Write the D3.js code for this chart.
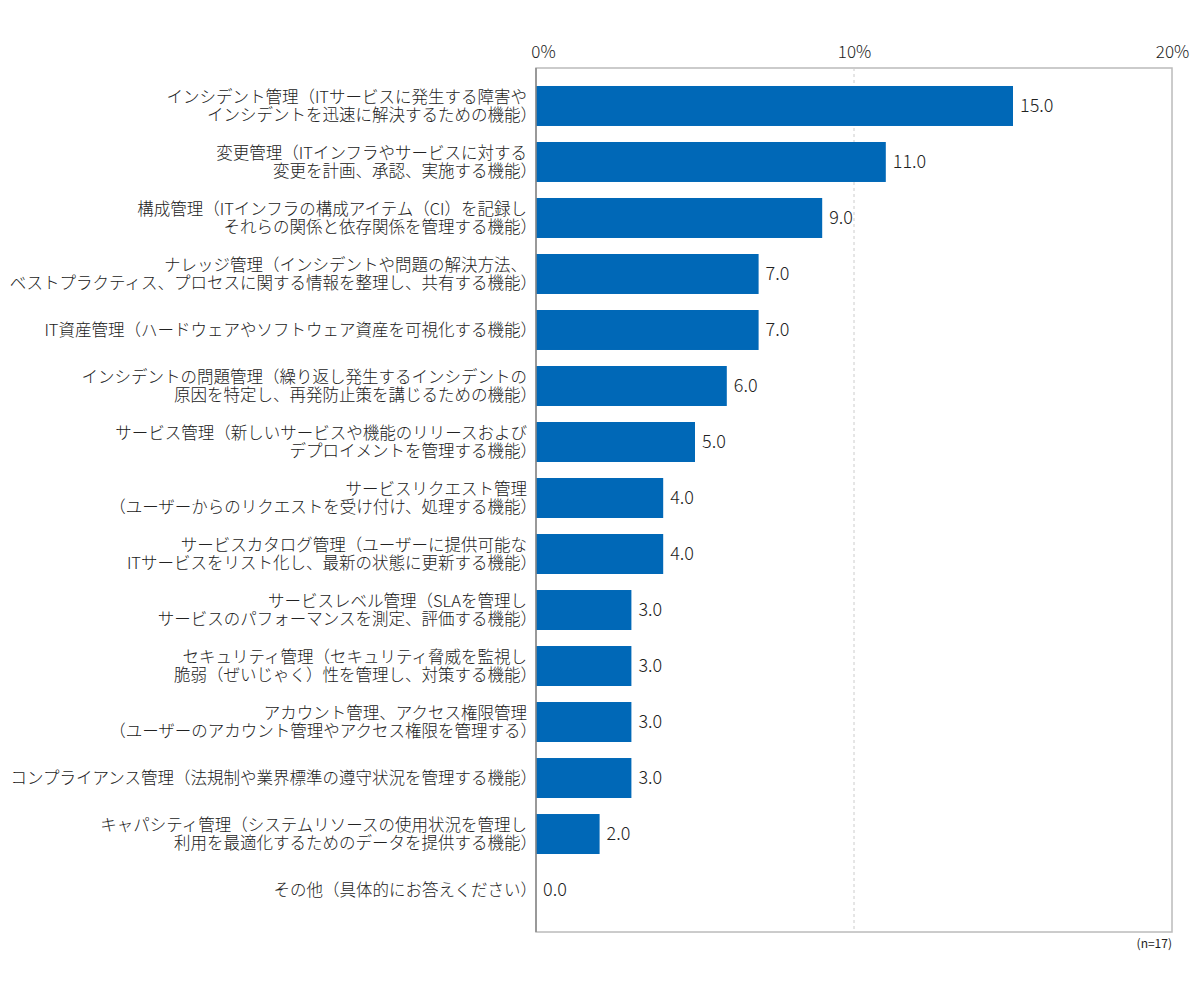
<!DOCTYPE html>
<html>
<head>
<meta charset="utf-8">
<script src="https://cdn.jsdelivr.net/npm/d3@7"></script>
<style>
  body { margin: 0; background: #fff; }
  text { font-family: "Noto Sans CJK JP", "Noto Sans", sans-serif; fill: #222; font-weight: 300; }
</style>
</head>
<body>
<div id="chart"></div>
<script>
// categories (line breaks as in the original), values in %
const categories = [
    "インシデント管理（ITサービスに発生する障害や\nインシデントを迅速に解決するための機能）",
    "変更管理（ITインフラやサービスに対する\n変更を計画、承認、実施する機能）",
    "構成管理（ITインフラの構成アイテム（CI）を記録し\nそれらの関係と依存関係を管理する機能）",
    "ナレッジ管理（インシデントや問題の解決方法、\nベストプラクティス、プロセスに関する情報を整理し、共有する機能）",
    "IT資産管理（ハードウェアやソフトウェア資産を可視化する機能）",
    "インシデントの問題管理（繰り返し発生するインシデントの\n原因を特定し、再発防止策を講じるための機能）",
    "サービス管理（新しいサービスや機能のリリースおよび\nデプロイメントを管理する機能）",
    "サービスリクエスト管理\n（ユーザーからのリクエストを受け付け、処理する機能）",
    "サービスカタログ管理（ユーザーに提供可能な\nITサービスをリスト化し、最新の状態に更新する機能）",
    "サービスレベル管理（SLAを管理し\nサービスのパフォーマンスを測定、評価する機能）",
    "セキュリティ管理（セキュリティ脅威を監視し\n脆弱（ぜいじゃく）性を管理し、対策する機能）",
    "アカウント管理、アクセス権限管理\n（ユーザーのアカウント管理やアクセス権限を管理する）",
    "コンプライアンス管理（法規制や業界標準の遵守状況を管理する機能）",
    "キャパシティ管理（システムリソースの使用状況を管理し\n利用を最適化するためのデータを提供する機能）",
    "その他（具体的にお答えください）"
];
const values = [15.0, 11.0, 9.0, 7.0, 7.0, 6.0, 5.0, 4.0, 4.0, 3.0, 3.0, 3.0, 3.0, 2.0, 0.0];
const ticks = [0, 10, 20];
const note = "(n=17)";

const data = categories.map((c, i) => ({label: c, value: values[i]}));

const width = 1200, height = 1000;
const margin = {top: 68, right: 28, bottom: 68, left: 536};

const svg = d3.select("#chart").append("svg")
    .attr("width", width)
    .attr("height", height);

const x = d3.scaleLinear()
    .domain([0, 20])
    .range([margin.left, width - margin.right]);

const y = d3.scaleBand()
    .domain(categories)
    .range([margin.top, height - margin.bottom])
    .paddingInner(0.286)
    .paddingOuter(0.357)
    .align(0.45);

// plot frame
svg.append("rect")
    .attr("x", x(0))
    .attr("y", margin.top)
    .attr("width", x(20) - x(0))
    .attr("height", height - margin.bottom - margin.top)
    .attr("fill", "none")
    .attr("stroke", "#bbb")
    .attr("stroke-width", 1.5);

// dashed gridline at 10%
svg.append("line")
    .attr("x1", x(10)).attr("x2", x(10))
    .attr("y1", margin.top).attr("y2", height - margin.bottom)
    .attr("stroke", "#ccc")
    .attr("stroke-dasharray", "3,3");

// top axis labels
const xAxis = d3.axisTop(x)
    .tickValues(ticks)
    .tickFormat(d => d + "%")
    .tickSize(0)
    .tickPadding(10);

svg.append("g")
    .attr("class", "axis x-axis")
    .attr("transform", "translate(0," + margin.top + ")")
    .call(xAxis)
    .call(g => g.select(".domain").remove())
    .selectAll("text")
    .attr("dx", d => d === 0 ? 7 : 0)
    .style("font-size", "17px")
    .style("fill", "#222")
    .style("font-weight", 300)
    .style("font-family", "\"Noto Sans CJK JP\", sans-serif");

// bars
svg.selectAll(".bar")
    .data(data)
    .enter().append("rect")
    .attr("class", "bar")
    .attr("x", x(0))
    .attr("y", d => y(d.label))
    .attr("width", d => x(d.value) - x(0))
    .attr("height", y.bandwidth())
    .attr("fill", "#0068b7");

// left axis line
svg.append("line")
    .attr("x1", x(0)).attr("x2", x(0))
    .attr("y1", margin.top).attr("y2", height - margin.bottom)
    .attr("stroke", "#888")
    .attr("stroke-width", 1.5);

// value labels
svg.selectAll(".value")
    .data(data)
    .enter().append("text")
    .attr("class", "value")
    .attr("x", d => x(d.value) + 7)
    .attr("y", d => y(d.label) + y.bandwidth() / 2)
    .attr("dy", "0.36em")
    .style("font-size", "18px")
    .text(d => d.value.toFixed(1));

// category labels
const lineH = 18.5;
const labels = svg.selectAll(".cat")
    .data(data)
    .enter().append("text")
    .attr("class", "cat")
    .attr("text-anchor", "end")
    .style("font-size", "16.5px");

labels.each(function (d) {
    const lines = d.label.split("\n");
    const cy = y(d.label) + y.bandwidth() / 2;
    const t = d3.select(this);
    lines.forEach((ln, i) => {
        // a closing full-width paren leaves blank space on its right, so pull it to the edge
        const shift = ln.endsWith("）") ? 10 : 0;
        t.append("tspan")
            .attr("x", margin.left - 9 + shift)
            .attr("y", cy + (i - (lines.length - 1) / 2) * lineH)
            .attr("dy", "0.36em")
            .text(ln);
    });
});

// sample size note
svg.append("text")
    .attr("x", x(20))
    .attr("y", height - margin.bottom + 16)
    .attr("text-anchor", "end")
    .style("font-size", "12px")
    .style("font-weight", 400)
    .text(note);
</script>
</body>
</html>
